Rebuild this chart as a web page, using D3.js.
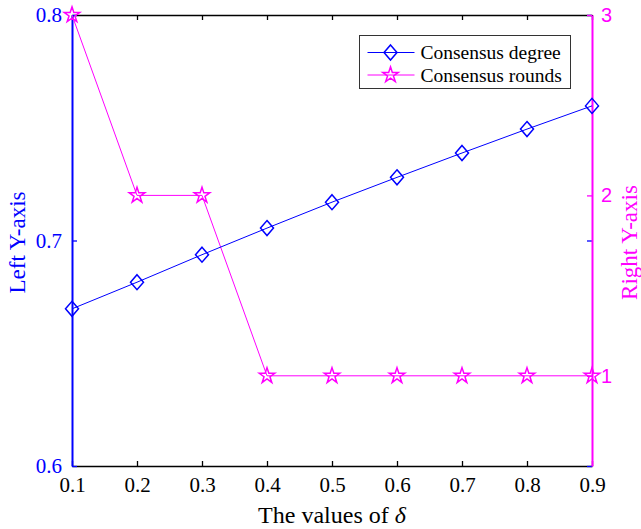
<!DOCTYPE html>
<html>
<head>
<meta charset="utf-8">
<script src="https://cdn.jsdelivr.net/npm/d3@7"></script>
<style>
  body { margin: 0; background: #fff; }
  text { font-family: "Liberation Serif", "Times New Roman", serif; }
</style>
</head>
<body>
<div class="js-chart"></div>
<script>
'use strict';

// data
const deltas = [0.1, 0.2, 0.3, 0.4, 0.5, 0.6, 0.7, 0.8, 0.9];
const consensusDegree = [0.6697, 0.6815, 0.6937, 0.7055, 0.7170, 0.7280, 0.7388, 0.7494, 0.7597];
const consensusRounds = [3, 2, 2, 1, 1, 1, 1, 1, 1];
const leftTicks = [0.6, 0.7, 0.8];
const rightTicks = [1, 2, 3];

const BLUE = '#0000ff';
const MAGENTA = '#ff00ff';

const margin = { top: 15, right: 49, bottom: 63, left: 72 };
const width = 641, height = 529;
const graphWidth = width - margin.left - margin.right;
const graphHeight = height - margin.top - margin.bottom;

const svg = d3.select('.js-chart')
    .append('svg')
    .attr('width', width)
    .attr('height', height);

const graph = svg.append('g')
    .attr('transform', `translate(${margin.left}, ${margin.top})`);

// scales
const x = d3.scaleLinear().domain([0.1, 0.9]).range([0, graphWidth]);
const yL = d3.scaleLinear().domain([0.6, 0.8]).range([graphHeight, 0]);
const yR = d3.scaleLinear().domain([0.5, 3]).range([graphHeight, 0]);

// axes (ticks inward like matlab)
const tickLen = 5;
const xAxis = d3.axisBottom(x).tickValues(deltas).tickFormat(d3.format('.1f'))
    .tickSizeInner(-tickLen).tickSizeOuter(0).tickPadding(11);
const xTop = d3.axisTop(x).tickValues(deltas).tickFormat('')
    .tickSizeInner(-tickLen).tickSizeOuter(0);
const yAxisL = d3.axisLeft(yL).tickValues(leftTicks).tickFormat(d3.format('.1f'))
    .tickSizeInner(-tickLen).tickSizeOuter(0).tickPadding(10);
const yAxisLmirror = d3.axisRight(yL).tickValues(leftTicks).tickFormat('')
    .tickSizeInner(-tickLen).tickSizeOuter(0);
const yAxisR = d3.axisRight(yR).tickValues(rightTicks).tickFormat(d3.format('d'))
    .tickSizeInner(-tickLen).tickSizeOuter(0).tickPadding(9);

const xAxisGroup = graph.append('g')
    .attr('transform', `translate(0, ${graphHeight})`)
    .call(xAxis);
xAxisGroup.select('.domain').attr('stroke', '#000').attr('stroke-width', 1.6);
xAxisGroup.selectAll('line').attr('stroke', '#000').attr('stroke-width', 1.3);
xAxisGroup.selectAll('text').attr('fill', '#000').style('font-size', '21px')
    .style('font-family', '"Liberation Serif", serif');

const xTopGroup = graph.append('g').call(xTop);
xTopGroup.select('.domain').attr('stroke', '#000').attr('stroke-width', 1.6);
xTopGroup.selectAll('line').attr('stroke', '#000').attr('stroke-width', 1.3);

const yMirror = graph.append('g')
    .attr('transform', `translate(${graphWidth}, 0)`)
    .call(yAxisLmirror);
yMirror.select('.domain').remove();
yMirror.selectAll('line').attr('stroke', BLUE).attr('stroke-width', 1.3);

const yLGroup = graph.append('g').call(yAxisL);
yLGroup.select('.domain').attr('stroke', BLUE).attr('stroke-width', 2);
yLGroup.selectAll('line').attr('stroke', BLUE).attr('stroke-width', 1.3);
yLGroup.selectAll('text').attr('fill', BLUE).style('font-size', '21px')
    .style('font-family', '"Liberation Serif", serif');

const yRGroup = graph.append('g')
    .attr('transform', `translate(${graphWidth}, 0)`)
    .call(yAxisR);
yRGroup.select('.domain').attr('stroke', MAGENTA).attr('stroke-width', 2);
yRGroup.selectAll('line').attr('stroke', MAGENTA).attr('stroke-width', 1.3);
yRGroup.selectAll('text').attr('fill', MAGENTA).style('font-size', '20px')
    .style('font-family', '"Liberation Sans", Arial, sans-serif');

// axis titles
svg.append('text')
    .attr('transform', `translate(25, ${margin.top + graphHeight / 2 + 2}) rotate(-90)`)
    .attr('text-anchor', 'middle')
    .attr('fill', BLUE)
    .style('font-size', '23px')
    .text('Left Y-axis');

svg.append('text')
    .attr('transform', `translate(637, ${margin.top + graphHeight / 2 + 2}) rotate(-90)`)
    .attr('text-anchor', 'middle')
    .attr('fill', MAGENTA)
    .style('font-size', '23px')
    .text('Right Y-axis');

const xTitle = svg.append('text')
    .attr('x', margin.left + graphWidth / 2)
    .attr('y', 523)
    .attr('text-anchor', 'middle')
    .attr('fill', '#000')
    .style('font-size', '24px');
xTitle.append('tspan').text('The values of ');
xTitle.append('tspan').style('font-style', 'italic').text('δ');

// series
const degreeData = deltas.map((d, i) => ({ x: d, y: consensusDegree[i] }));
const roundsData = deltas.map((d, i) => ({ x: d, y: consensusRounds[i] }));

const diamond = 'M0,-7.5L6.5,0L0,7.5L-6.5,0Z';
const star = d3.symbol(d3.symbolStar, 75)();

graph.append('path')
    .datum(roundsData)
    .attr('fill', 'none')
    .attr('stroke', MAGENTA)
    .attr('stroke-width', 1)
    .attr('d', d3.line().x(d => x(d.x)).y(d => yR(d.y)));

graph.selectAll('.star')
    .data(roundsData)
    .enter()
    .append('path')
    .attr('class', 'star')
    .attr('d', star)
    .attr('transform', d => `translate(${x(d.x)}, ${yR(d.y)})`)
    .attr('fill', 'none')
    .attr('stroke', MAGENTA)
    .attr('stroke-width', 1.5);

graph.append('path')
    .datum(degreeData)
    .attr('fill', 'none')
    .attr('stroke', BLUE)
    .attr('stroke-width', 1)
    .attr('d', d3.line().x(d => x(d.x)).y(d => yL(d.y)));

graph.selectAll('.diamond')
    .data(degreeData)
    .enter()
    .append('path')
    .attr('class', 'diamond')
    .attr('d', diamond)
    .attr('transform', d => `translate(${x(d.x)}, ${yL(d.y)})`)
    .attr('fill', 'none')
    .attr('stroke', BLUE)
    .attr('stroke-width', 1.5);

// legend
const legend = svg.append('g').attr('transform', 'translate(359.5, 35.5)');
legend.append('rect')
    .attr('width', 211)
    .attr('height', 53)
    .attr('fill', '#fff')
    .attr('stroke', '#333')
    .attr('stroke-width', 1);

const legendItems = [
    { label: 'Consensus degree', color: BLUE, shape: diamond },
    { label: 'Consensus rounds', color: MAGENTA, shape: star }
];

legendItems.forEach((item, i) => {
    const row = legend.append('g').attr('transform', `translate(0, ${17 + i * 22.5})`);
    row.append('line')
        .attr('x1', 8).attr('x2', 55)
        .attr('stroke', item.color).attr('stroke-width', 1);
    row.append('path')
        .attr('d', item.shape)
        .attr('transform', 'translate(31, 0)')
        .attr('fill', 'none')
        .attr('stroke', item.color)
        .attr('stroke-width', 1.5);
    row.append('text')
        .attr('x', 61)
        .attr('y', 6.5)
        .attr('fill', '#000')
        .style('font-size', '19.5px')
        .text(item.label);
});
</script>
</body>
</html>
